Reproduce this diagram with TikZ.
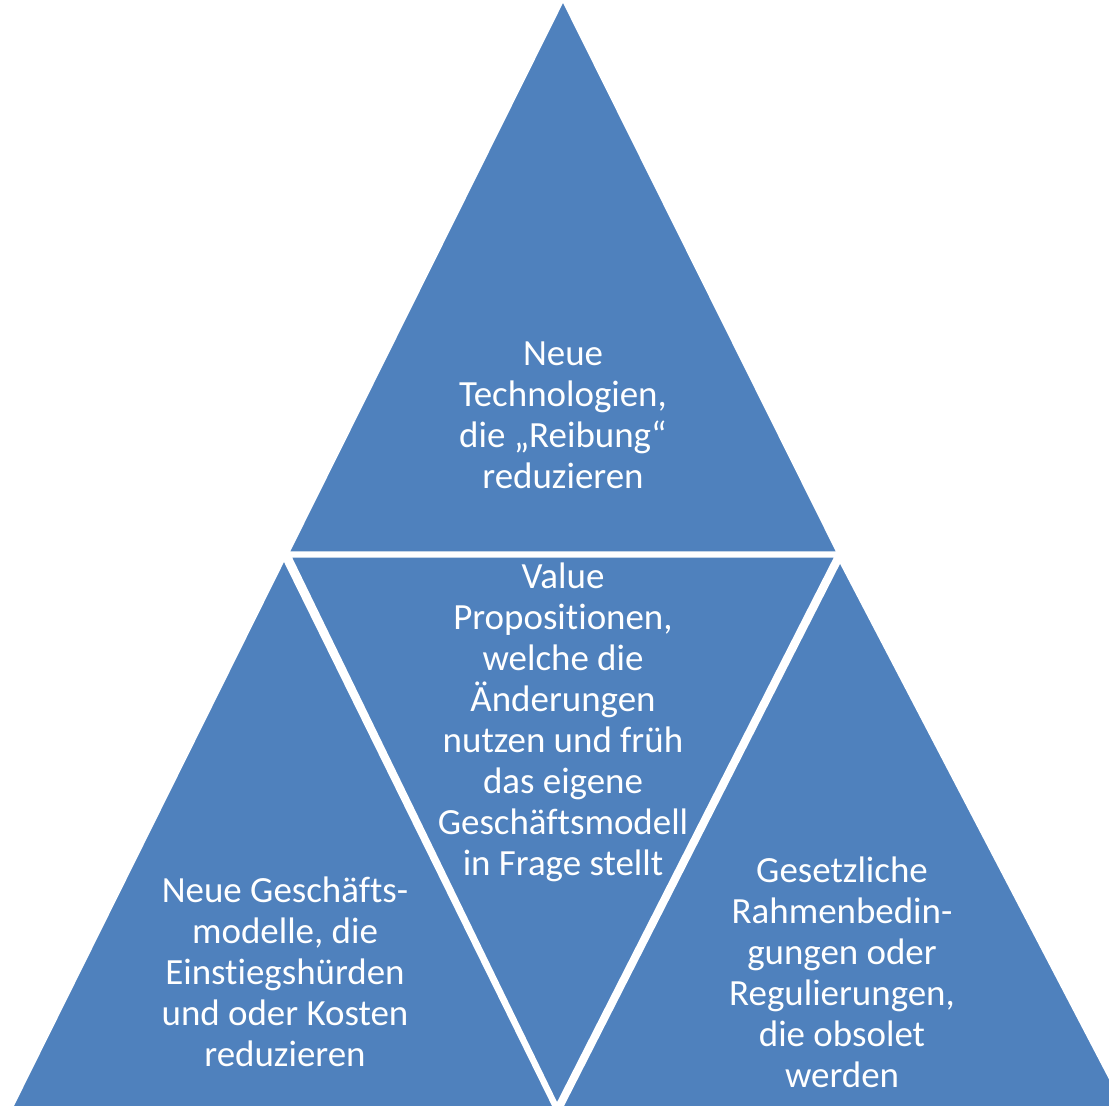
\documentclass[tikz,border=0pt]{standalone}
\usepackage{fontspec}
\setmainfont{Carlito}[Ligatures=NoCommon]
\definecolor{triblue}{HTML}{4F81BD}
\tikzset{
  piece/.style={draw=white, line width=1.5pt, fill=triblue, line join=miter},
  label/.style={text=white, align=center, font=\fontsize{10.5}{11.65}\selectfont}
}
\begin{document}
\begin{tikzpicture}[x=0.01cm,y=-0.01cm]
\useasboundingbox (0,0) rectangle (1109,1105);
\clip (0,0) rectangle (1109,1105);

\path[piece] (563,-3) -- (286,554) -- (840,554) -- cycle;
\path[piece] (288,555) -- (838,555) -- (557,1108) -- cycle;
\path[piece] (284,556) -- (9,1110) -- (557,1110) -- cycle;
\path[piece] (840,558) -- (559,1110) -- (1128,1110) -- cycle;

\node[label] (top) at (563,415) {Neue\\Technologien,\\die „Reibung“\\reduzieren};
\node[label] (mid) at (563,722) {Value\\Propositionen,\\welche die\\Änderungen\\nutzen und früh\\das eigene\\Geschäftsmodell\\in Frage stellt};
\node[label] (left) at (285,972) {Neue Geschäfts-\\modelle, die\\Einstiegshürden\\und oder Kosten\\reduzieren};
\node[label] (right) at (842,972) {Gesetzliche\\Rahmenbedin-\\gungen oder\\Regulierungen,\\die obsolet\\werden};
\end{tikzpicture}
\end{document}
